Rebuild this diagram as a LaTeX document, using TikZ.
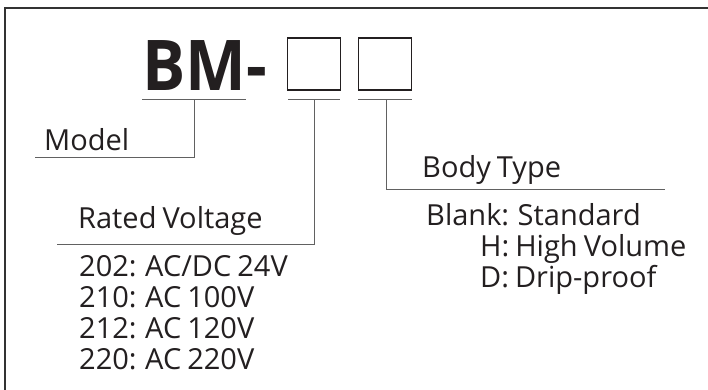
\documentclass[tikz,border=0pt]{standalone}
\usepackage{fontspec}
\setmainfont{Open Sans}[WordSpace=0.8]
\usetikzlibrary{positioning}
\definecolor{inkgray}{HTML}{231F20}
\tikzset{
  frame line/.style={draw=black!80,line width=2pt},
  leader line/.style={draw=black!62,line width=1pt},
  code box/.style={rectangle,draw=inkgray,line width=1.3pt,
    minimum width=53pt,minimum height=52pt,inner sep=0pt},
  code text/.style={font=\fontsize{70}{70}\selectfont\bfseries,
    text=inkgray,inner sep=0pt,anchor=base west,xscale=0.92,transform shape},
  field text/.style={font=\fontsize{29}{29}\selectfont,
    text=inkgray,inner sep=0pt,anchor=base west}
}

\begin{document}
\begin{tikzpicture}[x=1pt,y=-1pt]
    \clip (0,0) rectangle (708,389);
    \draw[frame line] (5,8) rectangle (740,420);
    \node[code text] (modelcode) at (142,90) {BM-};
    \node[code box] (voltbox) at (314,64) {};
    \node[code box] (bodybox) at (385,64) {};
    \coordinate (modelbarwest) at (142,99);
    \coordinate (modelbareast) at (246,99);
    \coordinate (voltbarwest) at (288,99);
    \coordinate (voltbareast) at (340,99);
    \coordinate (bodybarwest) at (358,99);
    \coordinate (bodybareast) at (412,99);
    \draw[leader line] (modelbarwest) -- (modelbareast);
    \draw[leader line] (voltbarwest) -- (voltbareast);
    \draw[leader line] (bodybarwest) -- (bodybareast);
    \coordinate (modeltap) at (194,99);
    \coordinate (modelend) at (35,157);
    \coordinate (volttap) at (314,99);
    \coordinate (voltend) at (57,244);
    \coordinate (bodytap) at (386,99);
    \coordinate (bodyend) at (665,189);
    \draw[leader line] (modeltap) |- (modelend);
    \draw[leader line] (volttap) |- (voltend);
    \draw[leader line] (bodytap) |- (bodyend);
    \node[field text] (modellabel) at (44,150) {Model};
    \node[field text] (voltlabel) at (78,228) {Rated Voltage};
    \node[field text] (bodylabel) at (422,177) {Body Type};
    \node[field text] (volta) at (79,276) {202: AC/DC 24V};
    \node[field text] (voltb) at (79,307) {210: AC 100V};
    \node[field text] (voltc) at (79,338) {212: AC 120V};
    \node[field text] (voltd) at (79,369) {220: AC 220V};
    \node[field text] (bodya) at (426,225) {Blank: Standard};
    \node[field text] (bodyb) at (480,256) {H: High Volume};
    \node[field text] (bodyc) at (480,287) {D: Drip-proof};
  \end{tikzpicture}
\end{document}
